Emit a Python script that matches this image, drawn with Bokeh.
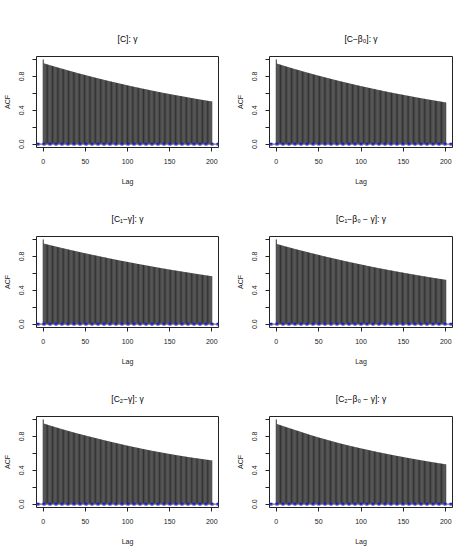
from bokeh.plotting import figure
from bokeh.layouts import gridplot
from bokeh.models import Range1d, FixedTicker, PrintfTickFormatter, Span
from bokeh.embed import file_html
from bokeh.resources import INLINE

lags = list(range(201))

acf_C = [1.000, 0.953,
    0.950, 0.947, 0.944, 0.941, 0.938, 0.935, 0.932, 0.929, 0.926,
    0.923, 0.920, 0.917, 0.914, 0.912, 0.909, 0.906, 0.903, 0.900, 0.897,
    0.894, 0.891, 0.889, 0.886, 0.883, 0.880, 0.877, 0.875, 0.872, 0.869,
    0.866, 0.863, 0.861, 0.858, 0.855, 0.852, 0.849, 0.847, 0.844, 0.841,
    0.838, 0.836, 0.833, 0.831, 0.828, 0.825, 0.823, 0.820, 0.818, 0.815,
    0.812, 0.810, 0.807, 0.805, 0.802, 0.799, 0.797, 0.794, 0.792, 0.789,
    0.787, 0.784, 0.782, 0.779, 0.777, 0.774, 0.772, 0.769, 0.767, 0.764,
    0.762, 0.759, 0.757, 0.754, 0.752, 0.750, 0.747, 0.745, 0.742, 0.740,
    0.738, 0.735, 0.733, 0.731, 0.729, 0.726, 0.724, 0.722, 0.719, 0.717,
    0.715, 0.712, 0.710, 0.708, 0.706, 0.703, 0.701, 0.699, 0.696, 0.694,
    0.692, 0.690, 0.687, 0.685, 0.683, 0.681, 0.679, 0.676, 0.674, 0.672,
    0.670, 0.668, 0.666, 0.664, 0.662, 0.659, 0.657, 0.655, 0.653, 0.651,
    0.649, 0.647, 0.645, 0.643, 0.641, 0.638, 0.636, 0.634, 0.632, 0.630,
    0.628, 0.626, 0.624, 0.622, 0.620, 0.618, 0.616, 0.614, 0.612, 0.610,
    0.608, 0.606, 0.604, 0.602, 0.601, 0.599, 0.597, 0.595, 0.593, 0.591,
    0.589, 0.587, 0.586, 0.584, 0.582, 0.580, 0.578, 0.577, 0.575, 0.573,
    0.571, 0.569, 0.568, 0.566, 0.564, 0.562, 0.560, 0.559, 0.557, 0.555,
    0.553, 0.551, 0.550, 0.548, 0.546, 0.544, 0.542, 0.541, 0.539, 0.537,
    0.535, 0.534, 0.532, 0.530, 0.529, 0.527, 0.525, 0.523, 0.522, 0.520,
    0.518, 0.517, 0.515, 0.514, 0.512, 0.510, 0.509, 0.507, 0.506, 0.504]

acf_C_b0 = [1.000, 0.950,
    0.947, 0.944, 0.941, 0.938, 0.934, 0.931, 0.928, 0.925, 0.922,
    0.919, 0.916, 0.913, 0.910, 0.907, 0.904, 0.901, 0.898, 0.895, 0.892,
    0.889, 0.886, 0.883, 0.880, 0.878, 0.875, 0.872, 0.869, 0.866, 0.863,
    0.860, 0.857, 0.855, 0.852, 0.849, 0.846, 0.843, 0.841, 0.838, 0.835,
    0.832, 0.830, 0.827, 0.824, 0.822, 0.819, 0.816, 0.813, 0.811, 0.808,
    0.805, 0.803, 0.800, 0.798, 0.795, 0.792, 0.790, 0.787, 0.785, 0.782,
    0.779, 0.777, 0.774, 0.772, 0.769, 0.766, 0.764, 0.761, 0.759, 0.756,
    0.754, 0.751, 0.749, 0.746, 0.744, 0.742, 0.739, 0.737, 0.734, 0.732,
    0.730, 0.727, 0.725, 0.722, 0.720, 0.718, 0.715, 0.713, 0.710, 0.708,
    0.706, 0.703, 0.701, 0.699, 0.697, 0.694, 0.692, 0.690, 0.687, 0.685,
    0.683, 0.681, 0.678, 0.676, 0.674, 0.672, 0.670, 0.667, 0.665, 0.663,
    0.661, 0.659, 0.656, 0.654, 0.652, 0.650, 0.648, 0.645, 0.643, 0.641,
    0.639, 0.637, 0.635, 0.633, 0.631, 0.628, 0.626, 0.624, 0.622, 0.620,
    0.618, 0.616, 0.614, 0.612, 0.610, 0.608, 0.606, 0.604, 0.602, 0.600,
    0.598, 0.596, 0.594, 0.592, 0.591, 0.589, 0.587, 0.585, 0.583, 0.581,
    0.579, 0.577, 0.575, 0.573, 0.572, 0.570, 0.568, 0.566, 0.564, 0.562,
    0.560, 0.558, 0.556, 0.554, 0.553, 0.551, 0.549, 0.547, 0.545, 0.543,
    0.541, 0.540, 0.538, 0.536, 0.535, 0.533, 0.531, 0.529, 0.528, 0.526,
    0.524, 0.523, 0.521, 0.519, 0.518, 0.516, 0.514, 0.512, 0.511, 0.509,
    0.507, 0.506, 0.504, 0.502, 0.501, 0.499, 0.497, 0.495, 0.494, 0.492]

acf_C1_g = [1.000, 0.950,
    0.948, 0.945, 0.943, 0.940, 0.938, 0.935, 0.933, 0.930, 0.928,
    0.926, 0.923, 0.921, 0.918, 0.916, 0.914, 0.911, 0.909, 0.906, 0.904,
    0.902, 0.899, 0.897, 0.895, 0.893, 0.890, 0.888, 0.886, 0.883, 0.881,
    0.879, 0.876, 0.874, 0.872, 0.870, 0.867, 0.865, 0.863, 0.860, 0.858,
    0.856, 0.854, 0.851, 0.849, 0.847, 0.845, 0.843, 0.840, 0.838, 0.836,
    0.834, 0.832, 0.830, 0.828, 0.826, 0.823, 0.821, 0.819, 0.817, 0.815,
    0.813, 0.811, 0.809, 0.807, 0.805, 0.802, 0.800, 0.798, 0.796, 0.794,
    0.792, 0.790, 0.788, 0.786, 0.784, 0.781, 0.779, 0.777, 0.775, 0.773,
    0.771, 0.769, 0.767, 0.765, 0.763, 0.761, 0.759, 0.757, 0.755, 0.753,
    0.751, 0.749, 0.747, 0.745, 0.744, 0.742, 0.740, 0.738, 0.736, 0.734,
    0.732, 0.730, 0.728, 0.726, 0.725, 0.723, 0.721, 0.719, 0.717, 0.715,
    0.713, 0.711, 0.710, 0.708, 0.706, 0.704, 0.702, 0.701, 0.699, 0.697,
    0.695, 0.693, 0.692, 0.690, 0.688, 0.686, 0.684, 0.683, 0.681, 0.679,
    0.677, 0.675, 0.674, 0.672, 0.670, 0.668, 0.666, 0.665, 0.663, 0.661,
    0.659, 0.658, 0.656, 0.654, 0.653, 0.651, 0.649, 0.647, 0.646, 0.644,
    0.642, 0.641, 0.639, 0.638, 0.636, 0.634, 0.633, 0.631, 0.630, 0.628,
    0.626, 0.625, 0.623, 0.622, 0.620, 0.618, 0.617, 0.615, 0.614, 0.612,
    0.610, 0.609, 0.607, 0.606, 0.604, 0.602, 0.601, 0.599, 0.598, 0.596,
    0.594, 0.593, 0.591, 0.590, 0.588, 0.587, 0.585, 0.584, 0.582, 0.581,
    0.579, 0.578, 0.576, 0.575, 0.573, 0.572, 0.570, 0.569, 0.567, 0.566]

acf_C1_b0_g = [1.000, 0.945,
    0.942, 0.939, 0.937, 0.934, 0.931, 0.928, 0.926, 0.923, 0.920,
    0.917, 0.915, 0.912, 0.909, 0.907, 0.904, 0.901, 0.898, 0.896, 0.893,
    0.890, 0.888, 0.885, 0.883, 0.880, 0.877, 0.875, 0.872, 0.870, 0.867,
    0.865, 0.862, 0.860, 0.857, 0.855, 0.852, 0.850, 0.847, 0.845, 0.842,
    0.840, 0.837, 0.835, 0.832, 0.830, 0.827, 0.825, 0.822, 0.820, 0.817,
    0.815, 0.812, 0.810, 0.807, 0.805, 0.803, 0.800, 0.798, 0.795, 0.793,
    0.791, 0.788, 0.786, 0.784, 0.782, 0.779, 0.777, 0.775, 0.772, 0.770,
    0.768, 0.765, 0.763, 0.761, 0.759, 0.756, 0.754, 0.752, 0.749, 0.747,
    0.745, 0.743, 0.740, 0.738, 0.736, 0.734, 0.732, 0.729, 0.727, 0.725,
    0.723, 0.721, 0.719, 0.717, 0.715, 0.712, 0.710, 0.708, 0.706, 0.704,
    0.702, 0.700, 0.698, 0.696, 0.694, 0.691, 0.689, 0.687, 0.685, 0.683,
    0.681, 0.679, 0.677, 0.675, 0.673, 0.671, 0.669, 0.667, 0.665, 0.663,
    0.661, 0.659, 0.657, 0.655, 0.654, 0.652, 0.650, 0.648, 0.646, 0.644,
    0.642, 0.640, 0.638, 0.636, 0.635, 0.633, 0.631, 0.629, 0.627, 0.625,
    0.623, 0.621, 0.620, 0.618, 0.616, 0.614, 0.612, 0.611, 0.609, 0.607,
    0.605, 0.603, 0.602, 0.600, 0.598, 0.596, 0.594, 0.593, 0.591, 0.589,
    0.587, 0.586, 0.584, 0.582, 0.581, 0.579, 0.577, 0.575, 0.574, 0.572,
    0.570, 0.569, 0.567, 0.565, 0.564, 0.562, 0.560, 0.558, 0.557, 0.555,
    0.553, 0.552, 0.550, 0.549, 0.547, 0.545, 0.544, 0.542, 0.541, 0.539,
    0.537, 0.536, 0.534, 0.533, 0.531, 0.529, 0.528, 0.526, 0.525, 0.523]

acf_C2_g = [1.000, 0.950,
    0.947, 0.944, 0.941, 0.938, 0.934, 0.931, 0.928, 0.925, 0.922,
    0.919, 0.916, 0.913, 0.910, 0.907, 0.904, 0.901, 0.898, 0.895, 0.892,
    0.889, 0.886, 0.883, 0.880, 0.878, 0.875, 0.872, 0.869, 0.866, 0.863,
    0.860, 0.858, 0.855, 0.852, 0.850, 0.847, 0.844, 0.841, 0.839, 0.836,
    0.833, 0.831, 0.828, 0.826, 0.823, 0.820, 0.818, 0.815, 0.813, 0.810,
    0.808, 0.805, 0.803, 0.800, 0.798, 0.795, 0.793, 0.790, 0.788, 0.785,
    0.783, 0.780, 0.778, 0.775, 0.773, 0.770, 0.768, 0.765, 0.763, 0.760,
    0.758, 0.755, 0.753, 0.750, 0.748, 0.746, 0.743, 0.741, 0.738, 0.736,
    0.734, 0.731, 0.729, 0.727, 0.725, 0.722, 0.720, 0.718, 0.715, 0.713,
    0.711, 0.708, 0.706, 0.704, 0.702, 0.699, 0.697, 0.695, 0.692, 0.690,
    0.688, 0.686, 0.684, 0.682, 0.680, 0.677, 0.675, 0.673, 0.671, 0.669,
    0.667, 0.665, 0.663, 0.661, 0.659, 0.656, 0.654, 0.652, 0.650, 0.648,
    0.646, 0.644, 0.642, 0.640, 0.638, 0.636, 0.634, 0.632, 0.630, 0.628,
    0.626, 0.624, 0.623, 0.621, 0.619, 0.617, 0.615, 0.614, 0.612, 0.610,
    0.608, 0.606, 0.605, 0.603, 0.601, 0.599, 0.597, 0.596, 0.594, 0.592,
    0.590, 0.589, 0.587, 0.585, 0.584, 0.582, 0.580, 0.578, 0.577, 0.575,
    0.573, 0.572, 0.570, 0.569, 0.567, 0.565, 0.564, 0.562, 0.561, 0.559,
    0.557, 0.556, 0.554, 0.553, 0.551, 0.550, 0.548, 0.547, 0.545, 0.544,
    0.543, 0.541, 0.540, 0.538, 0.537, 0.536, 0.534, 0.533, 0.531, 0.530,
    0.529, 0.527, 0.526, 0.524, 0.523, 0.522, 0.520, 0.519, 0.517, 0.516]

acf_C2_b0_g = [1.000, 0.945,
    0.942, 0.938, 0.935, 0.932, 0.928, 0.925, 0.922, 0.918, 0.915,
    0.912, 0.908, 0.905, 0.902, 0.899, 0.895, 0.892, 0.889, 0.885, 0.882,
    0.879, 0.876, 0.872, 0.869, 0.866, 0.863, 0.860, 0.856, 0.853, 0.850,
    0.847, 0.843, 0.840, 0.837, 0.834, 0.830, 0.827, 0.824, 0.820, 0.817,
    0.814, 0.811, 0.808, 0.805, 0.802, 0.799, 0.796, 0.793, 0.790, 0.787,
    0.784, 0.781, 0.779, 0.776, 0.773, 0.770, 0.767, 0.765, 0.762, 0.759,
    0.756, 0.753, 0.751, 0.748, 0.745, 0.742, 0.739, 0.737, 0.734, 0.731,
    0.728, 0.726, 0.723, 0.721, 0.718, 0.715, 0.713, 0.710, 0.708, 0.705,
    0.703, 0.700, 0.698, 0.695, 0.693, 0.691, 0.688, 0.686, 0.683, 0.681,
    0.679, 0.676, 0.674, 0.672, 0.670, 0.667, 0.665, 0.663, 0.660, 0.658,
    0.656, 0.654, 0.651, 0.649, 0.647, 0.645, 0.643, 0.640, 0.638, 0.636,
    0.634, 0.632, 0.629, 0.627, 0.625, 0.623, 0.621, 0.618, 0.616, 0.614,
    0.612, 0.610, 0.608, 0.606, 0.604, 0.602, 0.600, 0.598, 0.596, 0.594,
    0.592, 0.590, 0.588, 0.586, 0.584, 0.582, 0.580, 0.578, 0.576, 0.574,
    0.572, 0.570, 0.568, 0.566, 0.565, 0.563, 0.561, 0.559, 0.557, 0.555,
    0.553, 0.551, 0.550, 0.548, 0.546, 0.544, 0.542, 0.541, 0.539, 0.537,
    0.535, 0.533, 0.532, 0.530, 0.528, 0.526, 0.524, 0.523, 0.521, 0.519,
    0.517, 0.516, 0.514, 0.512, 0.511, 0.509, 0.507, 0.505, 0.504, 0.502,
    0.500, 0.499, 0.497, 0.496, 0.494, 0.492, 0.491, 0.489, 0.488, 0.486,
    0.484, 0.483, 0.481, 0.480, 0.478, 0.476, 0.475, 0.473, 0.472, 0.470]

titles = ["[C]: γ", "[C−β₀]: γ", "[C₁−γ]: γ", "[C₁−β₀ − γ]: γ", "[C₂−γ]: γ", "[C₂−β₀ − γ]: γ"]
series = [acf_C, acf_C_b0, acf_C1_g, acf_C1_b0_g, acf_C2_g, acf_C2_b0_g]
ci = 0.009
x_ticks = [0, 50, 100, 150, 200]
y_ticks = [0.0, 0.4, 0.8]
y_minor = [0.2, 0.6, 1.0]

FONT = "Liberation Sans"
col_w = [230, 223]
col_left = [36, 39]
col_right = [12, 1]
row_h = [195, 180, 177]
row_top = [56, 41, 41]
row_bottom = [48, 48, 45]


def panel(k):
    r, c = divmod(k, 2)
    p = figure(width=col_w[c], height=row_h[r],
               x_range=Range1d(-8, 208), y_range=Range1d(-0.04, 1.035),
               output_backend="svg", toolbar_location=None,
               min_border_left=col_left[c], min_border_right=col_right[c],
               min_border_top=row_top[r], min_border_bottom=row_bottom[r],
               title=titles[k])
    p.title.align = "center"
    p.title.text_font = FONT
    p.title.text_font_style = "normal"
    p.title.text_font_size = "8.5px"
    p.title.text_color = "#000000"
    p.title.standoff = 25
    p.xgrid.visible = False
    p.ygrid.visible = False
    p.outline_line_color = "#222222"
    p.outline_line_width = 1
    p.outline_line_alpha = 1
    p.background_fill_color = "white"
    p.border_fill_color = "white"

    p.segment(x0=lags, y0=[0] * len(lags), x1=lags, y1=series[k],
              line_color="#333333", line_width=1)
    p.add_layout(Span(location=0, dimension="width", line_color="#707070", line_width=1.2))
    p.add_layout(Span(location=ci, dimension="width", line_color="#1a1acc",
                      line_width=1.3, line_dash="3 3"))
    p.add_layout(Span(location=-ci, dimension="width", line_color="#1a1acc",
                      line_width=1.3, line_dash="3 3"))

    xa = p.xaxis[0]
    xa.ticker = FixedTicker(ticks=x_ticks)
    xa.axis_label = "Lag"
    ya = p.yaxis[0]
    ya.ticker = FixedTicker(ticks=y_ticks, minor_ticks=y_minor)
    ya.formatter = PrintfTickFormatter(format="%.1f")
    ya.axis_label = "ACF"
    ya.major_label_orientation = "vertical"
    for ax in (xa, ya):
        ax.axis_line_color = None
        ax.major_tick_in = 0
        ax.major_tick_out = 4
        ax.minor_tick_in = 0
        ax.minor_tick_out = 4
        ax.major_tick_line_color = "#222222"
        ax.minor_tick_line_color = "#222222"
        ax.major_label_text_font = FONT
        ax.major_label_text_font_size = "7px"
        ax.major_label_text_color = "#222222"
        ax.axis_label_text_font = FONT
        ax.axis_label_text_font_size = "7px"
        ax.axis_label_text_font_style = "normal"
        ax.axis_label_text_color = "#222222"
    xa.minor_tick_line_color = None
    xa.major_label_standoff = 7
    xa.axis_label_standoff = 11
    ya.major_label_standoff = 8
    ya.axis_label_standoff = 6
    return p


figs = [panel(k) for k in range(6)]
grid = gridplot([[figs[0], figs[1]], [figs[2], figs[3]], [figs[4], figs[5]]],
                toolbar_location=None)

open("out.html", "w").write(file_html(grid, INLINE))
